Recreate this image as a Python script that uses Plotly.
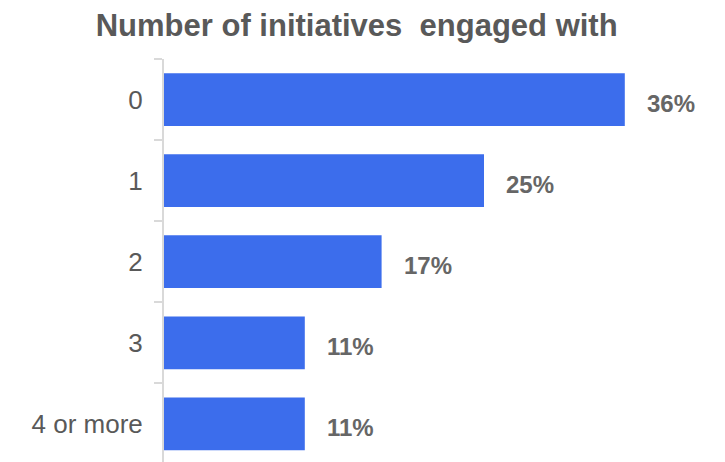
import plotly.graph_objects as go

# Share of respondents by number of initiatives engaged with
categories = ["0", "1", "2", "3", "4 or more"]
shares = [36, 25, 17, 11, 11]
labels = [f"{v}%" for v in shares]

BAR_COLOR = "#3C6DEC"
TEXT_GRAY = "#595959"
LABEL_GRAY = "#666666"
AXIS_GRAY = "#D9D9D9"
FONT = "Liberation Sans, Arial, sans-serif"

fig = go.Figure(
    go.Bar(
        x=shares,
        y=categories,
        orientation="h",
        marker=dict(color=BAR_COLOR, line=dict(width=0)),
        hoverinfo="skip",
    )
)

# Value labels set a little to the right of each bar end
for cat, val, txt in zip(categories, shares, labels):
    fig.add_annotation(
        x=val, y=cat, text=f"<b>{txt}</b>", showarrow=False,
        xanchor="left", yanchor="middle", xshift=20, yshift=-4,
        font=dict(family=FONT, size=24, color=LABEL_GRAY),
    )

fig.update_layout(
    width=725, height=462,
    margin=dict(l=164, r=49, t=59, b=0),
    paper_bgcolor="white", plot_bgcolor="white",
    bargap=0.35,
    showlegend=False,
    title=dict(
        text="<b>Number of initiatives  engaged with</b>",
        xref="container", yref="container",
        x=0.492, y=1 - 25 / 462, xanchor="center", yanchor="middle",
        font=dict(family=FONT, size=31, color=TEXT_GRAY),
    ),
    xaxis=dict(range=[0, 40], visible=False, fixedrange=True),
    yaxis=dict(
        categoryorder="array", categoryarray=categories,
        range=[4.47, -0.5],
        showline=True, linecolor=AXIS_GRAY, linewidth=2,
        ticks="outside", tickson="boundaries", ticklen=8,
        tickcolor=AXIS_GRAY, tickwidth=2,
        showgrid=False, zeroline=False,
        tickfont=dict(family=FONT, size=26, color=TEXT_GRAY),
        ticklabelstandoff=14,
    ),
)

fig.write_html("out.html")
